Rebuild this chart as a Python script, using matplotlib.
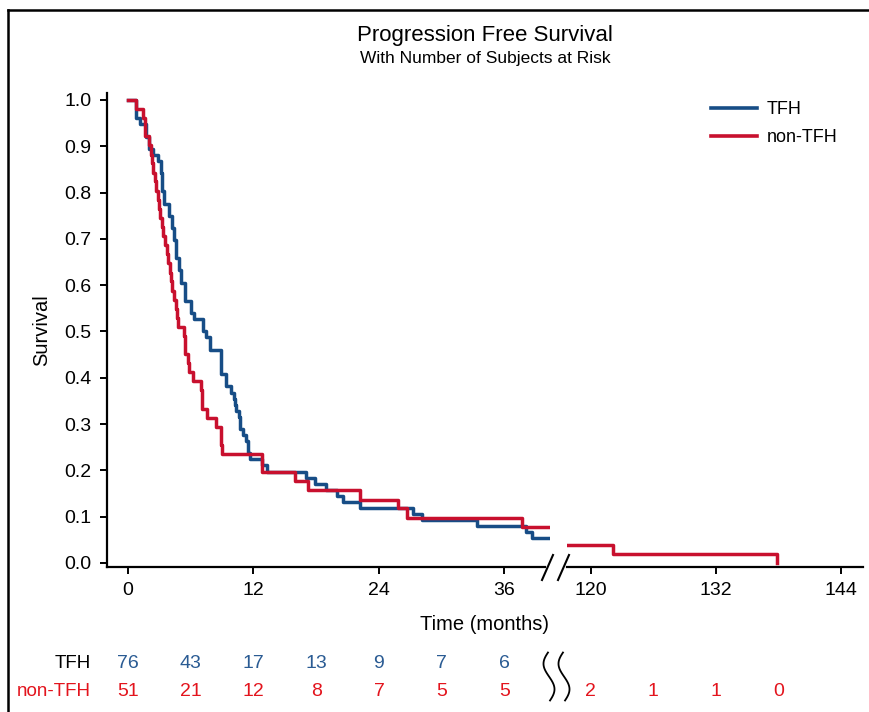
import matplotlib
matplotlib.use("Agg")
import numpy as np
import matplotlib.pyplot as plt
from matplotlib.lines import Line2D
from matplotlib.transforms import Affine2D, blended_transform_factory

# Kaplan-Meier step points (time in months, survival)
tfh_time = [0, 0.73, 1.2, 1.75, 2.05, 2.35, 2.85, 3.15, 3.3, 3.45, 3.95, 4.2, 4.4,
            4.6, 4.9, 5.05, 5.45, 6.0, 6.3, 7.2, 7.5, 7.82, 8.94, 9.42, 9.9, 10.1,
            10.25, 10.37, 10.6, 10.7, 10.75, 11.0, 11.25, 11.45, 11.5, 11.65, 12.86,
            13.25, 17.07, 17.87, 18.98, 19.94, 20.57, 22.17, 27.27, 28.07, 33.4,
            38.1, 38.6, 40.3]
tfh_surv = [1.000, 0.961, 0.947, 0.921, 0.895, 0.882, 0.868, 0.842, 0.803, 0.776,
            0.750, 0.724, 0.697, 0.658, 0.632, 0.605, 0.566, 0.539, 0.526, 0.500,
            0.487, 0.461, 0.408, 0.382, 0.368, 0.355, 0.342, 0.329, 0.316, 0.303,
            0.289, 0.276, 0.263, 0.250, 0.237, 0.224, 0.211, 0.197, 0.184, 0.171,
            0.158, 0.145, 0.132, 0.118, 0.105, 0.092, 0.079, 0.066, 0.053, 0.053]

ntfh_time = [0, 0.73, 1.45, 1.6, 2.0, 2.2, 2.3, 2.4, 2.55, 2.65, 2.85, 2.95, 3.1,
             3.25, 3.4, 3.55, 3.75, 3.85, 4.0, 4.1, 4.25, 4.4, 4.55, 4.7, 4.8, 5.4,
             5.45, 5.5, 5.7, 5.85, 6.2, 7.0, 7.05, 7.1, 7.6, 8.4, 8.9, 8.93, 8.96,
             12.86, 15.95, 17.2, 22.17, 25.84, 26.64, 37.65, 40.3]
ntfh_surv = [1.000, 0.980, 0.961, 0.922, 0.902, 0.882, 0.863, 0.843, 0.824, 0.804,
             0.784, 0.765, 0.745, 0.725, 0.706, 0.686, 0.667, 0.647, 0.627, 0.608,
             0.588, 0.569, 0.549, 0.529, 0.510, 0.490, 0.471, 0.451, 0.431, 0.412,
             0.392, 0.373, 0.353, 0.333, 0.314, 0.294, 0.275, 0.255, 0.235, 0.196,
             0.176, 0.157, 0.137, 0.118, 0.098, 0.078, 0.078]

# part after the axis break
ntfh_time_late = [117.7, 122.1, 137.86]
ntfh_surv_late = [0.039, 0.020, 0.0]

# number at risk
risk_times_left = [0, 6, 12, 18, 24, 30, 36]
risk_times_right = [120, 126, 132, 138]
tfh_risk = [76, 43, 17, 13, 9, 7, 6]
ntfh_risk_left = [51, 21, 12, 8, 7, 5, 5]
ntfh_risk_right = [2, 1, 1, 0]

BLUE = "#174d86"
RED = "#c8102e"
BLUE_TXT = "#2a5b93"
RED_TXT = "#e3141d"

plt.rcParams["font.family"] = ["Liberation Sans", "DejaVu Sans"]

W, H = 870, 712
fig = plt.figure(figsize=(W / 100, H / 100), dpi=100)
# pixel coordinates measured from the top-left corner
px = Affine2D().scale(1 / W, -1 / H).translate(0, 1) + fig.transFigure

top_px, bot_px = 93, 566.7
axL = fig.add_axes([107 / W, 1 - bot_px / H, (550 - 107) / W, (bot_px - top_px) / H])
axR = fig.add_axes([566.7 / W, 1 - bot_px / H, (863 - 566.7) / W, (bot_px - top_px) / H],
                   sharey=axL)

axL.step(tfh_time, tfh_surv, where="post", color=BLUE, lw=2.5, zorder=3)
axL.step(ntfh_time, ntfh_surv, where="post", color=RED, lw=2.5, zorder=4)
axR.step(ntfh_time_late, ntfh_surv_late, where="post", color=RED, lw=2.5)

axL.set_xlim(-2.0, 40.35)
axR.set_xlim(117.7, 146.1)
axL.set_ylim(-0.008, 1.015)

axL.set_xticks([0, 12, 24, 36])
axR.set_xticks([120, 132, 144])
axL.set_yticks(np.arange(0, 1.01, 0.1))
axL.set_yticklabels(["%.1f" % v for v in np.arange(0, 1.01, 0.1)])

for ax in (axL, axR):
    ax.set_facecolor("none")
    for s in ("top", "right"):
        ax.spines[s].set_visible(False)
    ax.spines["bottom"].set_linewidth(1.6)
    ax.spines["left"].set_linewidth(1.6)
    ax.tick_params(direction="out", length=5, width=1.4, labelsize=14, pad=6)
axL.spines["bottom"].set_bounds(-2.0, 39.9)
axR.spines["left"].set_visible(False)
axR.tick_params(axis="y", left=False, labelleft=False)

# axis break marks
for x0 in (542, 558):
    fig.add_artist(Line2D([x0, x0 + 11], [580, 555], color="black", lw=1.5, transform=px))

# titles and labels
fig.text(485, 36, "Progression Free Survival", transform=px, ha="center", va="center",
         fontsize=16)
fig.text(485, 59, "With Number of Subjects at Risk", transform=px, ha="center",
         va="center", fontsize=12.5)
fig.text(42, 330, "Survival", transform=px, ha="center", va="center", rotation=90,
         fontsize=14.5)
fig.text(485, 625, "Time (months)", transform=px, ha="center", va="center",
         fontsize=14.5)

# legend
handles = [Line2D([], [], color=BLUE, lw=2.6), Line2D([], [], color=RED, lw=2.6)]
fig.legend(handles, ["TFH", "non-TFH"], loc="upper left",
           bbox_to_anchor=(711 / W, 1 - 101 / H), frameon=False, fontsize=13,
           handlelength=2.55, handletextpad=0.55, labelspacing=0.6,
           borderpad=0, borderaxespad=0)

# number at risk table
row_y = [663, 692]
fig.text(91, row_y[0], "TFH", transform=px, ha="right", va="center", fontsize=13.5,
         color="black")
fig.text(91, row_y[1], "non-TFH", transform=px, ha="right", va="center", fontsize=13.5,
         color=RED_TXT)
trL = blended_transform_factory(axL.transData, px)
trR = blended_transform_factory(axR.transData, px)
for t, n in zip(risk_times_left, tfh_risk):
    fig.text(t, row_y[0], str(n), transform=trL, ha="center", va="center",
             fontsize=14, color=BLUE_TXT)
for t, n in zip(risk_times_left, ntfh_risk_left):
    fig.text(t, row_y[1], str(n), transform=trL, ha="center", va="center",
             fontsize=14, color=RED_TXT)
for t, n in zip(risk_times_right, ntfh_risk_right):
    fig.text(t, row_y[1], str(n), transform=trR, ha="center", va="center",
             fontsize=14, color=RED_TXT)

# wavy break marks in the table
u = np.linspace(0.03, 0.97, 60)
for xc in (549, 564):
    fig.add_artist(Line2D(xc - 5.5 * np.sin(2 * np.pi * u), 651 + 51 * u,
                          color="black", lw=1.3, transform=px))

# outer frame (top and left)
fig.add_artist(Line2D([8, 870], [10, 10], color="black", lw=1.8, transform=px))
fig.add_artist(Line2D([8, 8], [10, 712], color="black", lw=1.8, transform=px))

fig.savefig("out.png", dpi=100)
